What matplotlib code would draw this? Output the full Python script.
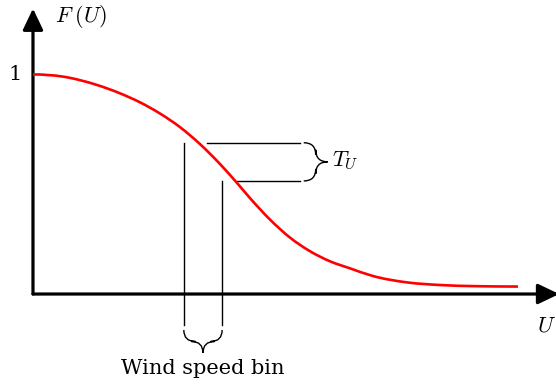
import numpy as np
import matplotlib.pyplot as plt
from matplotlib.path import Path
from matplotlib.patches import PathPatch, FancyArrowPatch

plt.rcParams['mathtext.fontset'] = 'cm'

# Кривая F(U), снятая по точкам
U_curve = [0.0, 0.619, 1.320, 1.794, 2.206, 2.619, 3.031, 3.443, 3.856, 4.206,
           4.474, 4.887, 5.299, 5.711, 6.124, 6.536, 7.010, 7.711, 8.392,
           9.072, 10.0]
F_curve = [1.0, 0.990, 0.952, 0.914, 0.873, 0.822, 0.760, 0.683, 0.592, 0.506,
           0.437, 0.339, 0.257, 0.195, 0.149, 0.117, 0.082, 0.053, 0.041,
           0.036, 0.034]

# Границы интервала скорости ветра и уровни F на них
bin_edges = [3.11, 3.90]
bin_tops = [0.689, 0.515]
level_starts = [3.59, 4.21]
level_end = 5.5
line_bottom = -0.141

fig = plt.figure(figsize=(5.56, 3.88), dpi=100)
ax = fig.add_axes([0, 0, 1, 1])
ax.set_xlim(-0.680, 10.784)
ax.set_ylim(-0.428, 1.339)
ax.axis('off')


def smooth_path(xs, ys):
    # гладкая кривая через точки: кубические сегменты Эрмита в форме Безье
    x = np.asarray(xs, float)
    y = np.asarray(ys, float)
    m = np.gradient(y, x)
    m[0] = 0.0
    verts = [(x[0], y[0])]
    codes = [Path.MOVETO]
    for i in range(len(x) - 1):
        dx = x[i + 1] - x[i]
        verts += [(x[i] + dx / 3, y[i] + m[i] * dx / 3),
                  (x[i + 1] - dx / 3, y[i + 1] - m[i + 1] * dx / 3),
                  (x[i + 1], y[i + 1])]
        codes += [Path.CURVE4] * 3
    return Path(verts, codes)


def brace(start, end, depth):
    # фигурная скобка: start, end — концы (данные), depth — глубина в пикселях
    inv = ax.transData.inverted()
    a = np.array(ax.transData.transform(start))
    b = np.array(ax.transData.transform(end))
    L = np.linalg.norm(b - a)
    t = (b - a) / L
    n = np.array([t[1], -t[0]])
    h = L / 2
    r = depth / 2
    local = [(0, 0), (0, r), (r, r), (h - r, r), (h, r), (h, depth),
             (h, r), (h + r, r), (L - r, r), (L, r), (L, 0)]
    codes = [Path.MOVETO, Path.CURVE3, Path.CURVE3, Path.LINETO,
             Path.CURVE3, Path.CURVE3, Path.CURVE3, Path.CURVE3,
             Path.LINETO, Path.CURVE3, Path.CURVE3]
    pts = [a + s * t + q * n for s, q in local]
    ax.add_patch(PathPatch(Path(inv.transform(pts), codes), fill=False,
                           lw=1.0, color='black'))
    return inv.transform([a + h * t + depth * n])[0]


# Оси со стрелками
arrow_kw = dict(arrowstyle='-|>,head_length=1.3,head_width=0.62',
                mutation_scale=10, lw=2.3, color='black',
                shrinkA=0, shrinkB=0)
ax.add_patch(FancyArrowPatch((0, 0), (0, 1.30), **arrow_kw))
ax.add_patch(FancyArrowPatch((0, 0), (10.85, 0), **arrow_kw))

# Кривая
ax.add_patch(PathPatch(smooth_path(U_curve, F_curve), fill=False,
                       color='red', lw=1.9, capstyle='butt', zorder=3))

# Вертикальные линии интервала
for u, f in zip(bin_edges, bin_tops):
    ax.plot([u, u], [line_bottom, f], color='black', lw=1.0)

# Горизонтальные уровни
for u0, f in zip(level_starts, bin_tops):
    ax.plot([u0, level_end], [f, f], color='black', lw=1.0)

# Скобки
inv = ax.transData.inverted()
p0 = ax.transData.transform((bin_edges[0], line_bottom)) + [0, -5]
p1 = ax.transData.transform((bin_edges[1], line_bottom)) + [0, -5]
tip_b = brace(inv.transform(p0), inv.transform(p1), 23)

q_top = ax.transData.transform((level_end, bin_tops[0])) + [4, 0]
q_bot = ax.transData.transform((level_end, bin_tops[1])) + [4, 0]
tip_r = brace(inv.transform(q_bot), inv.transform(q_top), 24)

# Подписи
ax.text(0.45, 1.265, r'$F\;(U)$', fontsize=16, ha='left', va='center')
ax.text(-0.22, 1.0, '1', fontsize=15, ha='right', va='center',
        family='DejaVu Serif')
ax.text(10.58, -0.145, r'$U$', fontsize=16, ha='center', va='center')
ax.text(tip_r[0] + 0.08, tip_r[1] + 0.005, r'$T_U$', fontsize=16,
        ha='left', va='center')
ax.text(tip_b[0], tip_b[1] - 0.07, 'Wind speed bin', fontsize=15,
        ha='center', va='center', family='DejaVu Serif')

fig.savefig('out.png', dpi=100)
